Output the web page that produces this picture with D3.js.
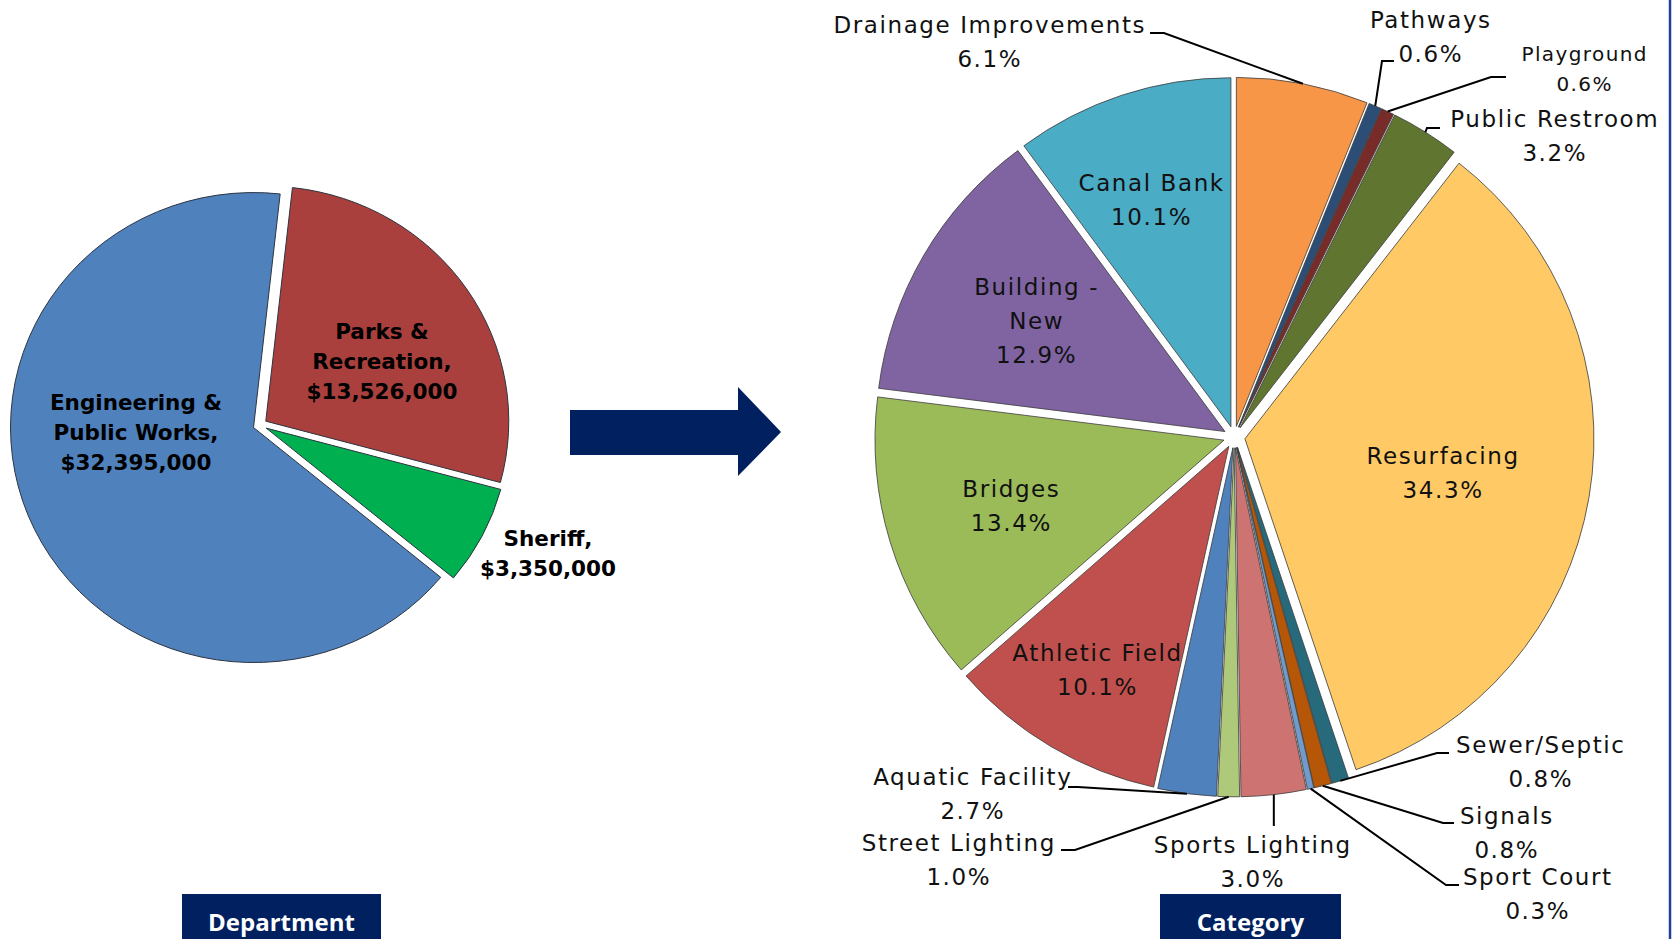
<!DOCTYPE html>
<html>
<head>
<meta charset="utf-8">
<script src="https://cdn.jsdelivr.net/npm/d3@7/dist/d3.min.js"></script>
<style>
  body { margin: 0; background: #fff; }
  svg { display: block; }
</style>
</head>
<body>
<script>
// ---- data ----
// left pie: budget by department ("|" = line break in label)
const deptNames = ["Engineering &|Public Works", "Parks &|Recreation", "Sheriff"];
const deptValues = [32395000, 13526000, 3350000];
const deptColors = ["#4F81BD", "#AA403D", "#00B050"];

// right pie: share by category, clockwise from 12 o'clock
const catNames = ["Drainage Improvements", "Pathways", "Playground", "Public Restroom",
  "Resurfacing", "Sewer/Septic", "Signals", "Sport Court", "Sports Lighting",
  "Street Lighting", "Aquatic Facility", "Athletic Field", "Bridges", "Building -|New", "Canal Bank"];
const catPct = [6.1, 0.6, 0.6, 3.2, 34.3, 0.8, 0.8, 0.3, 3.0, 1.0, 2.7, 10.1, 13.4, 12.9, 10.1];
const catColors = ["#F79646", "#2C4D75", "#772C2A", "#5F7530", "#FFCA65", "#276A7C",
  "#B65708", "#729ACA", "#CD7371", "#AFC97A", "#4F81BD", "#C0504D", "#9BBB59", "#8064A2", "#4BACC6"];

const width = 1677, height = 939;
const navy = "#002060";

const svg = d3.select("body").append("svg")
  .attr("width", width)
  .attr("height", height);

// ---------- left pie ----------
const L = { cx: 260, cy: 425, r: 243, sy: 235 / 243, explode: 7 };
const deptTotal = d3.sum(deptValues);
// Parks & Recreation starts just right of 12 o'clock
const s0 = 6.3 * Math.PI / 180 - deptValues[0] / deptTotal * 2 * Math.PI;
const leftPie = d3.pie().sort(null).startAngle(s0).endAngle(s0 + 2 * Math.PI);
const leftArc = d3.arc().innerRadius(0).outerRadius(L.r);

const gl = svg.append("g")
  .attr("transform", `translate(${L.cx},${L.cy}) scale(1,${L.sy})`);

gl.selectAll("path")
  .data(leftPie(deptValues))
  .join("path")
  .attr("d", leftArc)
  .attr("transform", d => {
    const m = (d.startAngle + d.endAngle) / 2;
    return `translate(${L.explode * Math.sin(m)},${-L.explode * Math.cos(m)})`;
  })
  .attr("fill", (d, i) => deptColors[i])
  .attr("stroke", "#2d3440")
  .attr("stroke-width", 1)
  .attr("vector-effect", "non-scaling-stroke");

// label anchors (first line centre)
const deptLabelPos = [[136, 402], [382, 331], [548, 538]];
const fmtMoney = d3.format("$,");
deptNames.forEach((name, i) => {
  const lines = name.split("|");
  lines[lines.length - 1] += ",";
  lines.push(fmtMoney(deptValues[i]));
  const t = svg.append("text")
    .attr("text-anchor", "middle")
    .attr("font-family", "'DejaVu Sans', sans-serif")
    .attr("font-weight", "bold")
    .attr("font-size", 21.5)
    .attr("fill", "#000");
  lines.forEach((ln, j) => {
    t.append("tspan")
      .attr("x", deptLabelPos[i][0])
      .attr("y", deptLabelPos[i][1] + 8 + j * 30)
      .text(ln);
  });
});

// ---------- arrow ----------
svg.append("path")
  .attr("d", "M570,410 L738,410 L738,387 L781,432 L738,476 L738,455 L570,455 Z")
  .attr("fill", navy);

// ---------- right pie ----------
const R = { cx: 1234.3, cy: 437, r: 349, explode: 10.8 };
const rightPie = d3.pie().sort(null).value(d => d);
const rightArc = d3.arc().innerRadius(0).outerRadius(R.r);
const slices = rightPie(catPct);
const mid = d => (d.startAngle + d.endAngle) / 2;
const polar = (a, rad) => [R.cx + rad * Math.sin(a), R.cy - rad * Math.cos(a)];

const gr = svg.append("g").attr("transform", `translate(${R.cx},${R.cy})`);
gr.selectAll("path")
  .data(slices)
  .join("path")
  .attr("d", rightArc)
  .attr("transform", d => `translate(${R.explode * Math.sin(mid(d))},${-R.explode * Math.cos(mid(d))})`)
  .attr("fill", (d, i) => catColors[i])
  .attr("stroke", "#3a3a3a")
  .attr("stroke-width", 0.8);

// label layout: inside labels by radius, outside labels by position + leader
const catLayout = {
  "Drainage Improvements": { x: 989, y: 25, elbow: [1164, 33], end: [1150, 33] },
  "Pathways": { x: 1430, y: 20, elbow: [1382, 61], end: [1394, 61] },
  "Playground": { x: 1584, y: 54, fs: 20, lh: 30, ls: 1.4, elbow: [1491, 77], end: [1506, 77] },
  "Public Restroom": { x: 1554, y: 119, elbow: [1427, 128], end: [1440, 128] },
  "Resurfacing": { lr: 211 },
  "Sewer/Septic": { x: 1540, y: 745, elbow: [1437, 753], end: [1449, 753] },
  "Signals": { x: 1506, y: 816, elbow: [1443, 823], end: [1454, 823] },
  "Sport Court": { x: 1537, y: 877, elbow: [1446, 885], end: [1459, 885] },
  "Sports Lighting": { x: 1252, y: 845, down: 826 },
  "Street Lighting": { x: 958, y: 843, elbow: [1075, 850], end: [1061, 850] },
  "Aquatic Facility": { x: 972, y: 777, elbow: [1078, 787], end: [1068, 787] },
  "Athletic Field": { lr: 270 },
  "Bridges": { lr: 234 },
  "Building -|New": { lr: 230 },
  "Canal Bank": { lr: 252, da: -0.02 }
};

const fmtPct = v => d3.format(".1f")(v) + "%";
const line = d3.line();

slices.forEach((d, i) => {
  const name = catNames[i];
  const lay = catLayout[name];
  const lines = name.split("|").concat([fmtPct(catPct[i])]);
  const fs = lay.fs || 23, lh = lay.lh || 34, ls = lay.ls || 1.6;
  let x, y0;
  if (lay.lr) {
    const p = polar(mid(d) + (lay.da || 0), lay.lr);
    x = p[0];
    y0 = p[1] - (lines.length - 1) * lh / 2;
  } else {
    x = lay.x;
    y0 = lay.y;
    const a = polar(mid(d), R.r + R.explode);
    const pts = lay.down ? [a, [a[0], lay.down]] : [a, lay.elbow, lay.end];
    svg.append("path")
      .attr("d", line(pts))
      .attr("fill", "none")
      .attr("stroke", "#000")
      .attr("stroke-width", 2);
  }
  const t = svg.append("text")
    .attr("text-anchor", "middle")
    .attr("font-family", "'DejaVu Sans', sans-serif")
    .attr("font-size", fs)
    .attr("letter-spacing", ls)
    .attr("fill", "#111");
  lines.forEach((ln, j) => {
    t.append("tspan")
      .attr("x", x + ls / 2)
      .attr("y", y0 + fs * 0.36 + j * lh)
      .text(ln);
  });
});

// ---------- caption boxes ----------
const boxes = [
  { label: "Department", x: 182, w: 199 },
  { label: "Category", x: 1160, w: 181 }
];
boxes.forEach(b => {
  svg.append("rect")
    .attr("x", b.x).attr("y", 894)
    .attr("width", b.w).attr("height", 50)
    .attr("fill", navy);
  svg.append("text")
    .attr("x", b.x + b.w / 2)
    .attr("y", 931)
    .attr("text-anchor", "middle")
    .attr("font-family", "'Open Sans', sans-serif")
    .attr("font-weight", "bold")
    .attr("font-size", 24)
    .attr("fill", "#fff")
    .text(b.label);
});

// right frame edge
svg.append("line")
  .attr("x1", 1670).attr("x2", 1670)
  .attr("y1", 0).attr("y2", height)
  .attr("stroke", "#22409A")
  .attr("stroke-width", 2.5);
</script>
</body>
</html>
